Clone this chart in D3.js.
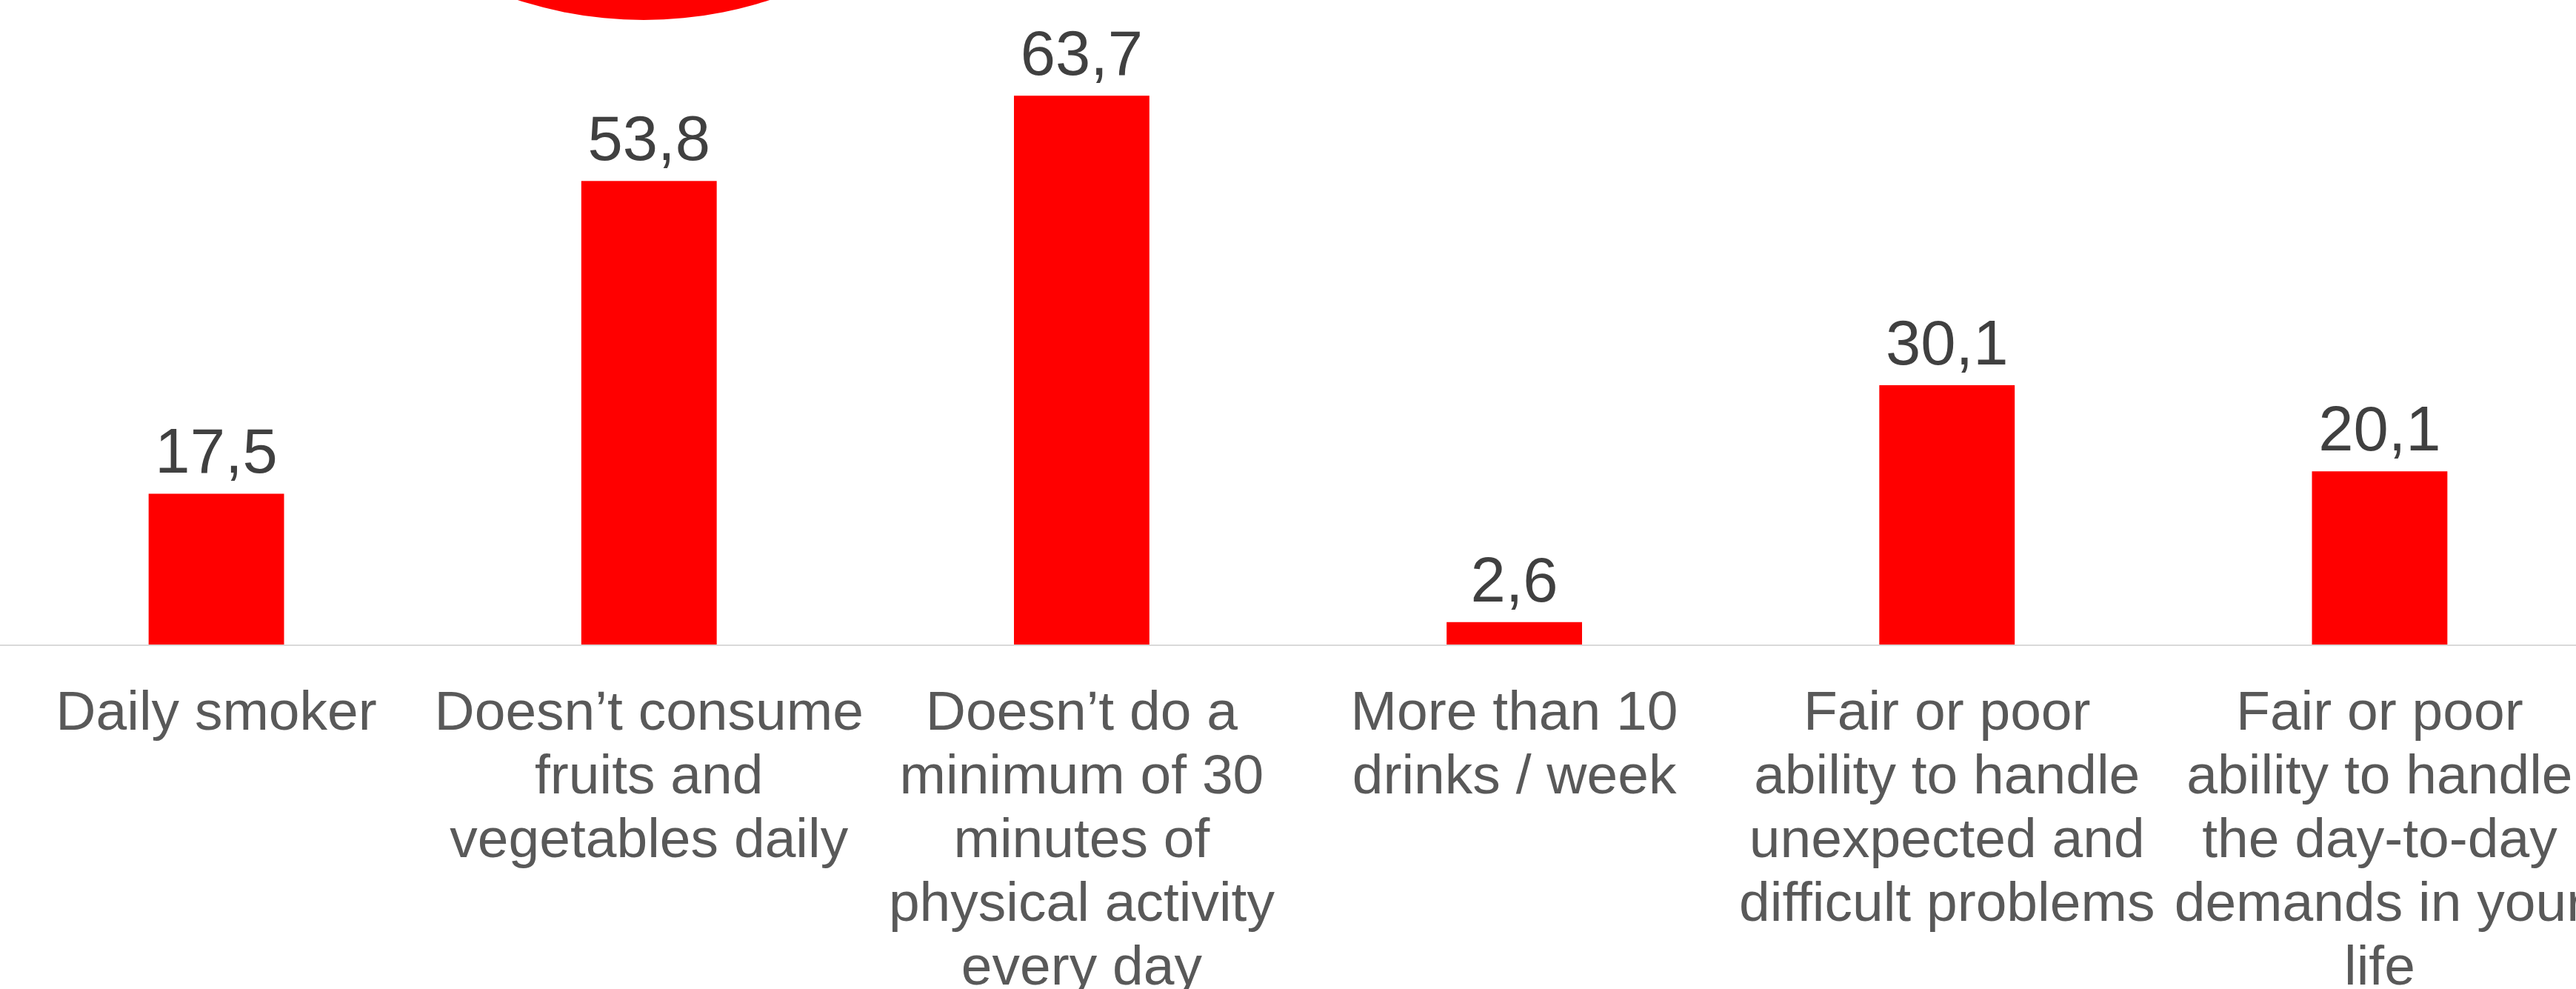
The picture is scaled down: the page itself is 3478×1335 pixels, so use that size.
<!DOCTYPE html>
<html>
<head>
<meta charset="utf-8">
<script src="https://cdn.jsdelivr.net/npm/d3@7"></script>
<style>
  html, body { margin: 0; padding: 0; background: #ffffff; overflow: hidden; }
  svg { display: block; }
</style>
</head>
<body>
<svg id="chart" width="3478" height="1335"></svg>
<script>
// ---- Data ----
const categories = [
  "Daily smoker",
  "Doesn’t consume fruits and vegetables daily",
  "Doesn’t do a minimum of 30 minutes of physical activity every day",
  "More than 10 drinks / week",
  "Fair or poor ability to handle unexpected and difficult problems",
  "Fair or poor ability to handle the day-to-day demands in your life"
];
const categoryLines = [
  ["Daily smoker"],
  ["Doesn’t consume", "fruits and", "vegetables daily"],
  ["Doesn’t do a", "minimum of 30", "minutes of", "physical activity", "every day"],
  ["More than 10", "drinks / week"],
  ["Fair or poor", "ability to handle", "unexpected and", "difficult problems"],
  ["Fair or poor", "ability to handle", "the day-to-day", "demands in your", "life"]
];
const values = [17.5, 53.8, 63.7, 2.6, 30.1, 20.1];

// ---- Layout ----
const W = 3478, H = 1335;
const baseY = 870;
const pxPerUnit = 11.63;
const yMax = 70;

const svg = d3.select("#chart");

const x = d3.scaleBand()
  .domain(categories)
  .range([0, 3505])
  .paddingInner(0.687)
  .paddingOuter(0.3435);

const y = d3.scaleLinear()
  .domain([0, yMax])
  .range([baseY, baseY - yMax * pxPerUnit]);

const fmt = v => d3.format(".1f")(v).replace(".", ",");

// decorative red circle partially visible at the top
svg.append("circle")
  .attr("cx", 869)
  .attr("cy", 27 - 550)
  .attr("r", 550)
  .attr("fill", "#ff0000");

// bars
svg.append("g").selectAll("rect")
  .data(values)
  .join("rect")
  .attr("x", (d, i) => x(categories[i]))
  .attr("y", d => y(d))
  .attr("width", x.bandwidth())
  .attr("height", d => y(0) - y(d))
  .attr("fill", "#ff0000");

// baseline
svg.append("line")
  .attr("x1", 0).attr("x2", W)
  .attr("y1", y(0) + 1).attr("y2", y(0) + 1)
  .attr("stroke", "#d9d9d9")
  .attr("stroke-width", 2);

// value labels
svg.append("g").selectAll("text")
  .data(values)
  .join("text")
  .attr("x", (d, i) => x(categories[i]) + x.bandwidth() / 2)
  .attr("y", d => y(d) - 28)
  .attr("text-anchor", "middle")
  .attr("font-family", "'Liberation Sans', Arial, sans-serif")
  .attr("font-size", 85)
  .attr("fill", "#404040")
  .text(d => fmt(d));

// category labels
const lab = svg.append("g").selectAll("text")
  .data(categoryLines)
  .join("text")
  .attr("text-anchor", "middle")
  .attr("font-family", "'Liberation Sans', Arial, sans-serif")
  .attr("font-size", 75)
  .attr("fill", "#595959");

lab.each(function(lines, i) {
  const cx = x(categories[i]) + x.bandwidth() / 2;
  d3.select(this).selectAll("tspan")
    .data(lines)
    .join("tspan")
    .attr("x", cx)
    .attr("y", (l, j) => 985 + j * 86)
    .text(l => l);
});
</script>
</body>
</html>
